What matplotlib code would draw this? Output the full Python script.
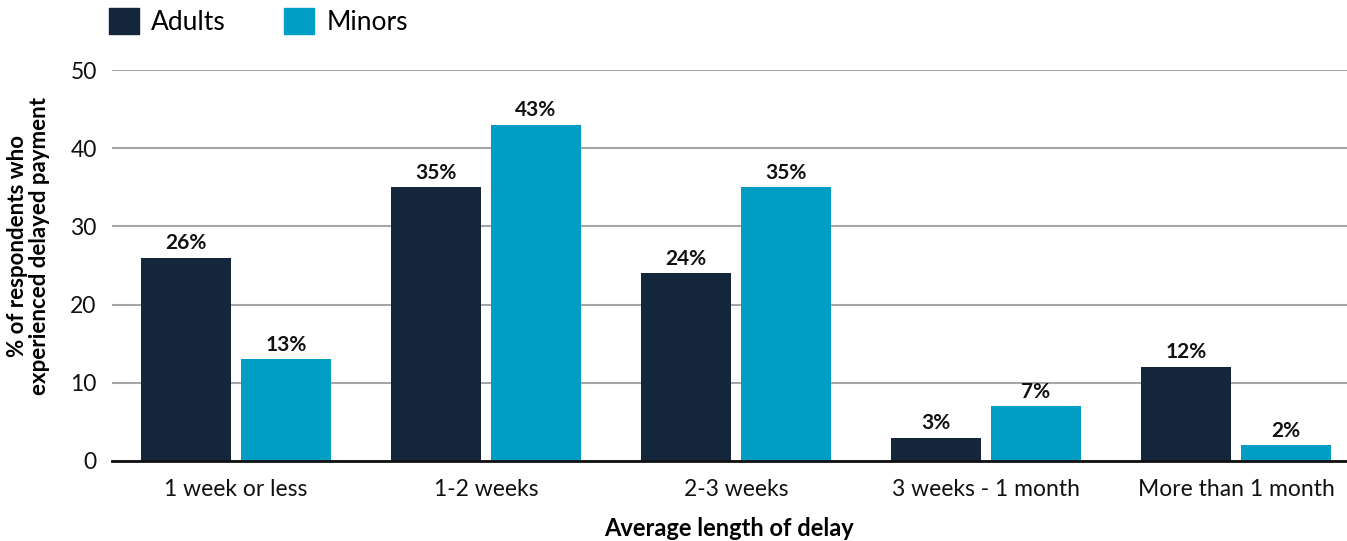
import numpy as np
import matplotlib.pyplot as plt
from matplotlib.patches import Patch

plt.rcParams['font.family'] = ['Lato', 'DejaVu Sans']

categories = ['1 week or less', '1-2 weeks', '2-3 weeks', '3 weeks - 1 month', 'More than 1 month']
adults = [26, 35, 24, 3, 12]
minors = [13, 43, 35, 7, 2]

c_adults = '#13263b'
c_minors = '#009ec4'

fig = plt.figure(figsize=(13.47, 5.41), dpi=100)
ax = fig.add_axes([0.0831, 0.1479, 0.9169, 0.7227])

x = np.arange(len(categories))
w = 0.36
b1 = ax.bar(x - 0.2, adults, w, color=c_adults, zorder=3)
b2 = ax.bar(x + 0.2, minors, w, color=c_minors, zorder=3)

for bars, vals in [(b1, adults), (b2, minors)]:
    for rect, v in zip(bars, vals):
        ax.text(rect.get_x() + rect.get_width() / 2, v + 0.6, f'{v}%',
                ha='center', va='bottom', fontsize=15, fontweight='bold', color='#111111')

ax.set_xlim(-0.496, 4.444)
ax.set_ylim(0, 50)
ax.set_yticks([0, 10, 20, 30, 40, 50])
ax.set_xticks(x)
ax.set_xticklabels(categories)
ax.tick_params(axis='both', length=0, labelsize=16.5, colors='#111111')
ax.tick_params(axis='x', pad=13)
ax.tick_params(axis='y', pad=11)
ax.grid(axis='y', color='#a6a6a6', linewidth=1.5, zorder=0)
for s in ['top', 'right', 'left']:
    ax.spines[s].set_visible(False)
ax.spines['bottom'].set_color('#111111')
ax.spines['bottom'].set_linewidth(2)
ax.spines['bottom'].set_zorder(4)

ax.set_xlabel('Average length of delay', fontsize=17, fontweight='bold', labelpad=12)
ax.set_ylabel('% of respondents who\nexperienced delayed payment', fontsize=16,
              fontweight='bold', linespacing=1.05)
ax.yaxis.set_label_coords(-0.050, 0.55)

handles = [Patch(color=c_adults, label='Adults'), Patch(color=c_minors, label='Minors')]
fig.legend(handles=handles, loc='upper left', bbox_to_anchor=(109 / 1347, 1 - 8 / 541), ncol=2,
           frameon=False, fontsize=19, handlelength=1.15, handleheight=1.15,
           handletextpad=0.45, columnspacing=2.2, borderpad=0, borderaxespad=0)

fig.savefig('out.png', dpi=100)
